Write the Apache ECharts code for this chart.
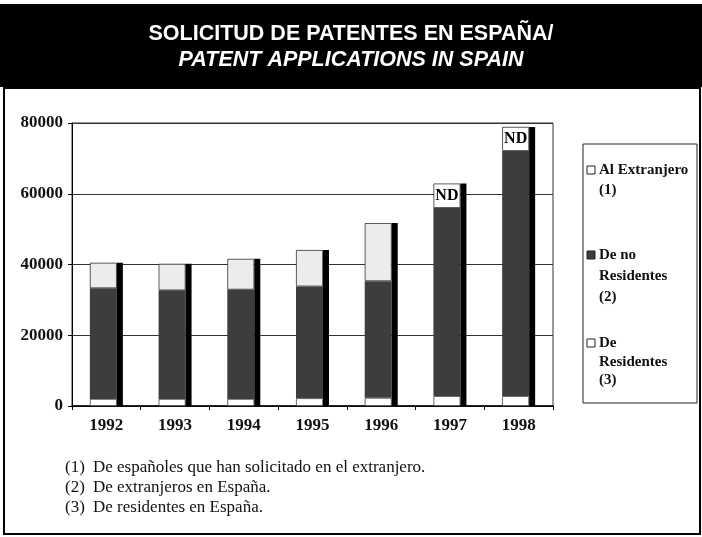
<!DOCTYPE html>
<html>
<head>
<meta charset="utf-8">
<script src="https://cdn.jsdelivr.net/npm/echarts@6/dist/echarts.min.js"></script>
<style>
  html, body { margin: 0; padding: 0; background: #fff; }
  #chart { width: 702px; height: 537px; }
</style>
</head>
<body>
<div id="chart"></div>
<script>
// datos
const years = ["1992", "1993", "1994", "1995", "1996", "1997", "1998"];
const residentes = [2000, 2000, 2000, 2200, 2300, 2800, 2800];
const noResidentes = [31300, 30700, 30900, 31600, 33000, 53200, 69300];
const extranjero = [7200, 7500, 8700, 10300, 16400, 6900, 6800];
const extLabels = ["", "", "", "", "", "ND", "ND"];
const legendNames = [
    ["Al Extranjero", "(1)"],
    ["De no", "Residentes", "(2)"],
    ["De", "Residentes", "(3)"]
];
const notes = [
    ["(1)", "De españoles que han solicitado en el extranjero."],
    ["(2)", "De extranjeros en España."],
    ["(3)", "De residentes en España."]
];

const totals = years.map((y, i) => residentes[i] + noResidentes[i] + extranjero[i]);
const serif = "'Liberation Serif', 'Times New Roman', serif";
const sans = "'Liberation Sans', Arial, sans-serif";
const darkFill = "#3d3d3d";

// leyenda y notas dibujadas a mano
const graphics = [
    { type: "rect", shape: { x: 0, y: 4, width: 702, height: 83 }, style: { fill: "#000" }, z: 0 },
    { type: "rect", shape: { x: 4, y: 88, width: 696, height: 446 }, style: { fill: null, stroke: "#000", lineWidth: 2 } },
    { type: "rect", shape: { x: 583, y: 144, width: 114, height: 259 }, style: { fill: "#fff", stroke: "#222", lineWidth: 1 } }
];
const legendTops = [170, 255, 343];
const legendGaps = [[0, 20], [0, 21, 42], [0, 19, 37]];
const legendFills = ["#fff", darkFill, "#fff"];
legendNames.forEach((lines, k) => {
    graphics.push({
        type: "rect",
        shape: { x: 587, y: legendTops[k] - 4, width: 8, height: 8 },
        style: { fill: legendFills[k], stroke: "#222", lineWidth: 1 }
    });
    lines.forEach((t, j) => {
        graphics.push({
            type: "text",
            x: 599, y: legendTops[k] + legendGaps[k][j],
            style: { text: t, font: "bold 15px " + serif, fill: "#111", verticalAlign: "middle" }
        });
    });
});
notes.forEach((n, k) => {
    graphics.push({ type: "text", x: 65, y: 468 + k * 20,
        style: { text: n[0], font: "17px " + serif, fill: "#111", verticalAlign: "middle" } });
    graphics.push({ type: "text", x: 93, y: 468 + k * 20,
        style: { text: n[1], font: "17px " + serif, fill: "#111", verticalAlign: "middle" } });
});

const chart = echarts.init(document.getElementById("chart"));
chart.setOption({
    animation: false,
    backgroundColor: "#fff",
    title: {
        left: "center",
        top: 16,
        text: "{a|SOLICITUD DE PATENTES EN ESPAÑA/}\n{b|PATENT APPLICATIONS IN SPAIN}",
        textStyle: {
            rich: {
                a: { color: "#fff", fontSize: 21.5, fontWeight: "bold", fontFamily: sans, lineHeight: 26 },
                b: { color: "#fff", fontSize: 21.5, fontWeight: "bold", fontStyle: "italic", fontFamily: sans, lineHeight: 26 }
            }
        }
    },
    graphic: graphics,
    grid: {
        left: 72, right: 149, top: 123, bottom: 131,
        show: true, borderColor: "#333", borderWidth: 1
    },
    xAxis: {
        type: "category",
        data: years,
        axisLine: { lineStyle: { color: "#000", width: 1.5 } },
        axisTick: { show: true, length: 4, lineStyle: { color: "#000" } },
        axisLabel: { margin: 11, color: "#111", fontFamily: serif, fontWeight: "bold", fontSize: 17 }
    },
    yAxis: {
        type: "value",
        min: 0, max: 80000, interval: 20000,
        axisLine: { show: true, lineStyle: { color: "#000" } },
        axisTick: { show: true, length: 4, lineStyle: { color: "#000" } },
        splitLine: { lineStyle: { color: "#333", width: 1 } },
        axisLabel: { margin: 9, color: "#111", fontFamily: serif, fontWeight: "bold", fontSize: 17,
            formatter: v => String(v) }
    },
    series: [
        {
            name: "De Residentes (3)",
            type: "bar", stack: "total", barWidth: 27,
            data: residentes,
            itemStyle: { color: "#fff", borderColor: "#444", borderWidth: 0.8 }
        },
        {
            name: "De no Residentes (2)",
            type: "bar", stack: "total", barWidth: 27,
            data: noResidentes,
            itemStyle: { color: darkFill }
        },
        {
            name: "Al Extranjero (1)",
            type: "bar", stack: "total", barWidth: 27,
            data: extranjero.map((v, i) => ({
                value: v,
                itemStyle: { color: extLabels[i] ? "#fff" : "#ececec" }
            })),
            itemStyle: { borderColor: "#333", borderWidth: 0.8 },
            label: {
                show: true, position: "inside",
                formatter: p => extLabels[p.dataIndex],
                color: "#000", fontFamily: serif, fontWeight: "bold", fontSize: 16
            }
        },
        {
            name: "sombra",
            type: "bar", barWidth: 6, barGap: "0%",
            data: totals,
            itemStyle: { color: "#000" }
        }
    ]
});
</script>
</body>
</html>
